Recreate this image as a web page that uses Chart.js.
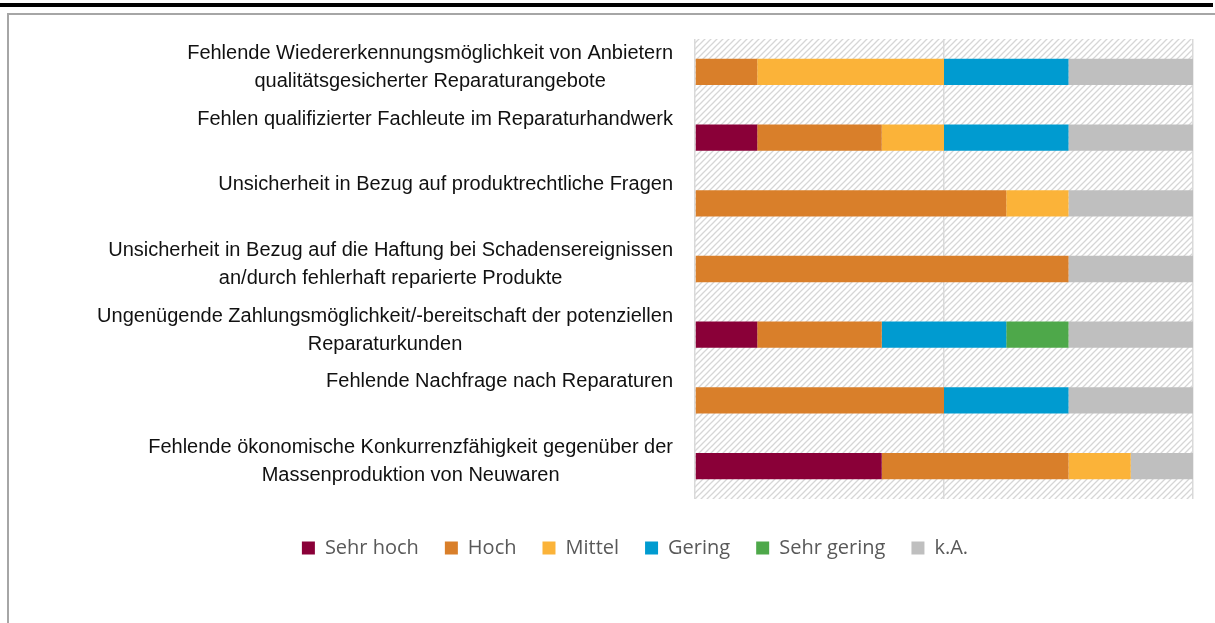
<!DOCTYPE html>
<html lang="de">
<head>
<meta charset="utf-8">
<title>Hemmnisse Reparatur</title>
<script src="https://cdn.jsdelivr.net/npm/chart.js@4.4.1/dist/chart.umd.min.js"></script>
<style>
  html, body { margin: 0; padding: 0; background: #fff; }
  #wrap { position: relative; width: 1215px; height: 623px; overflow: hidden; }
  #wrap canvas { position: absolute; left: 0; top: 0; }
  #topLine { position: absolute; left: 0; top: 3px; width: 1213px; height: 4px; background: #000; }
  #frame { position: absolute; left: 7px; top: 13px; width: 1215px; height: 620px;
           border-top: 2px solid #a6a6a6; border-left: 2px solid #a6a6a6; }
</style>
</head>
<body>
<div id="wrap">
  <canvas id="barriersChart" width="1215" height="623"></canvas>
  <div id="topLine"></div>
  <div id="frame"></div>
</div>
<script>
// categories (one line per array entry, as in the original labels)
var categories = [
    ['Fehlende Wiedererkennungsmöglichkeit von Anbietern', 'qualitätsgesicherter Reparaturangebote'],
    ['Fehlen qualifizierter Fachleute im Reparaturhandwerk'],
    ['Unsicherheit in Bezug auf produktrechtliche Fragen'],
    ['Unsicherheit in Bezug auf die Haftung bei Schadensereignissen', 'an/durch fehlerhaft reparierte Produkte'],
    ['Ungenügende Zahlungsmöglichkeit/-bereitschaft der potenziellen', 'Reparaturkunden'],
    ['Fehlende Nachfrage nach Reparaturen'],
    ['Fehlende ökonomische Konkurrenzfähigkeit gegenüber der', 'Massenproduktion von Neuwaren']
];

var sehrHoch   = [0, 1, 0, 0, 1, 0, 3];
var hoch       = [1, 2, 5, 6, 2, 4, 3];
var mittel     = [3, 1, 1, 0, 0, 0, 1];
var gering     = [2, 2, 0, 0, 2, 2, 0];
var sehrGering = [0, 0, 0, 0, 1, 0, 0];
var keineAngabe = [2, 2, 2, 2, 2, 2, 1];

var seriesNames = ['Sehr hoch', 'Hoch', 'Mittel', 'Gering', 'Sehr gering', 'k.A.'];
var seriesColors = ['#8a0038', '#d97f2a', '#fbb339', '#009bd0', '#4ea84a', '#bfbfbf'];

var axisMax = 8;
var axisStep = 4;

// hatched plot background
var hatchBackground = {
    id: 'hatchBackground',
    beforeDraw: function (chart) {
        var ctx = chart.ctx;
        var area = chart.chartArea;
        var tile = document.createElement('canvas');
        tile.width = 6;
        tile.height = 6;
        var g = tile.getContext('2d');
        g.fillStyle = '#ffffff';
        g.fillRect(0, 0, 6, 6);
        g.strokeStyle = '#d6d6d6';
        g.lineWidth = 1.3;
        g.beginPath();
        g.moveTo(0, 6); g.lineTo(6, 0);
        g.moveTo(-1, 1); g.lineTo(1, -1);
        g.moveTo(5, 7); g.lineTo(7, 5);
        g.stroke();
        ctx.save();
        ctx.fillStyle = ctx.createPattern(tile, 'repeat');
        ctx.fillRect(area.left, area.top, area.right - area.left, area.bottom - area.top);
        ctx.restore();
    }
};

// category labels: right aligned block, second line centred under the first
var categoryLabels = {
    id: 'categoryLabels',
    afterDraw: function (chart) {
        var ctx = chart.ctx;
        var ys = chart.scales.y;
        var right = chart.chartArea.left - 22;
        ctx.save();
        ctx.font = '20px "Liberation Sans", Arial, sans-serif';
        ctx.fillStyle = '#111111';
        ctx.textBaseline = 'middle';
        ctx.textAlign = 'center';
        categories.forEach(function (lines, i) {
            var yc = ys.getPixelForValue(i);
            var mid = right - ctx.measureText(lines[0]).width / 2;
            lines.forEach(function (t, k) {
                ctx.fillText(t, mid, yc - 18.5 + k * 28);
            });
        });
        ctx.restore();
    }
};

var seriesData = [sehrHoch, hoch, mittel, gering, sehrGering, keineAngabe];

new Chart(document.getElementById('barriersChart'), {
    type: 'bar',
    data: {
        labels: categories.map(function (c) { return c.join(' '); }),
        datasets: seriesNames.map(function (name, i) {
            return {
                label: name,
                data: seriesData[i],
                backgroundColor: seriesColors[i],
                borderWidth: 0,
                barPercentage: 0.4,
                categoryPercentage: 1
            };
        })
    },
    options: {
        indexAxis: 'y',
        responsive: false,
        animation: false,
        layout: { padding: { top: 39, left: 77, right: 22, bottom: 55 } },
        scales: {
            x: {
                stacked: true,
                min: 0,
                max: axisMax,
                ticks: { display: false, stepSize: axisStep },
                grid: { color: '#d9d9d9', drawTicks: false, lineWidth: 1.5 },
                border: { display: false },
                afterFit: function (s) { s.height = 13; }
            },
            y: {
                stacked: true,
                ticks: { display: false },
                grid: { display: false },
                border: { display: false },
                afterFit: function (s) { s.width = 618; }
            }
        },
        plugins: {
            legend: {
                position: 'bottom',
                labels: {
                    boxWidth: 13,
                    boxHeight: 13,
                    padding: 26,
                    color: '#595959',
                    font: { family: '"Open Sans", sans-serif', size: 20 }
                }
            },
            tooltip: { enabled: false }
        }
    },
    plugins: [hatchBackground, categoryLabels]
});
</script>
</body>
</html>
